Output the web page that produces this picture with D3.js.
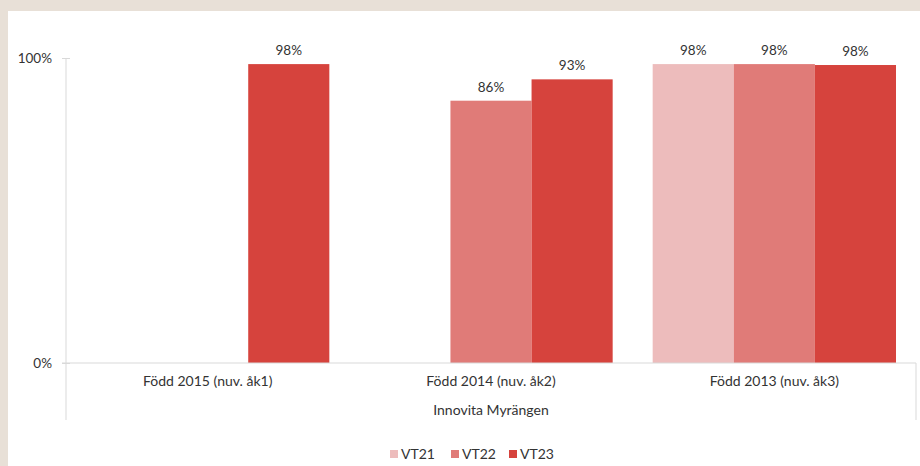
<!DOCTYPE html>
<html>
<head>
<meta charset="utf-8">
<script src="https://cdn.jsdelivr.net/npm/d3@7"></script>
<style>
  body { margin: 0; background: #e8e0d7; }
  svg text { font-family: Lato, "Open Sans", sans-serif; fill: #333; }
</style>
</head>
<body>
<svg id="chart" width="920" height="466"></svg>
<script>
"use strict";

// Data
const categories = ["Född 2015 (nuv. åk1)", "Född 2014 (nuv. åk2)", "Född 2013 (nuv. åk3)"];
const series = ["VT21", "VT22", "VT23"];
const vt21 = [null, null, 0.98];
const vt22 = [null, 0.86, 0.98];
const vt23 = [0.98, 0.93, 0.977];
const groupLabel = "Innovita Myrängen";
const yTicks = [0, 1];
const colors = ["#edbcbc", "#e07b78", "#d6433d"];

const values = [vt21, vt22, vt23];

var svg = d3.select("#chart");

// white panel
svg.append("rect")
  .attr("x", 8)
  .attr("y", 11)
  .attr("width", 912)
  .attr("height", 455)
  .attr("fill", "#fff");

var plot = { left: 66, right: 916, top: 58, bottom: 363 };

var x0 = d3.scaleBand()
  .domain(categories)
  .range([plot.left, plot.right]);

// 20px free on each side of a category, bars touch each other
var x1 = d3.scaleBand()
  .domain(series)
  .range([20, x0.bandwidth() - 20]);

var y = d3.scaleLinear()
  .domain([0, 1])
  .range([plot.bottom, plot.top]);

var axisColor = "#d9d9d9";

// y axis line, extends down through category labels
svg.append("line")
  .attr("x1", plot.left).attr("x2", plot.left)
  .attr("y1", plot.top).attr("y2", 420)
  .attr("stroke", axisColor);
svg.append("line")
  .attr("x1", plot.right).attr("x2", plot.right)
  .attr("y1", plot.bottom).attr("y2", 420)
  .attr("stroke", axisColor);

var yAxis = d3.axisLeft(y)
  .tickValues(yTicks)
  .tickFormat(d3.format(".0%"))
  .tickSize(4);

var gY = svg.append("g")
  .attr("transform", "translate(" + plot.left + ",0)")
  .call(yAxis);
gY.select(".domain").remove();
gY.selectAll(".tick line")
  .attr("stroke", axisColor)
  .attr("x2", 4)
  .attr("x1", -4);
gY.selectAll(".tick text")
  .attr("x", -14)
  .attr("font-size", 13.5);

// bars
categories.forEach(function(cat, ci) {
  series.forEach(function(s, si) {
    var v = values[si][ci];
    if (v == null) return;
    var bx = x0(cat) + x1(s);
    svg.append("rect")
      .attr("x", bx)
      .attr("y", y(v))
      .attr("width", x1.bandwidth())
      .attr("height", y(0) - y(v))
      .attr("fill", colors[si]);
    svg.append("text")
      .attr("x", bx + x1.bandwidth() / 2)
      .attr("y", y(v) - 9)
      .attr("text-anchor", "middle")
      .attr("font-size", 13.5)
      .text(d3.format(".0%")(v));
  });
});

// baseline
svg.append("line")
  .attr("x1", plot.left - 4).attr("x2", plot.right)
  .attr("y1", plot.bottom).attr("y2", plot.bottom)
  .attr("stroke", axisColor);

// category labels
var xAxis = d3.axisBottom(x0).tickSize(0).tickPadding(0);
var gX = svg.append("g")
  .attr("transform", "translate(0," + plot.bottom + ")")
  .call(xAxis);
gX.select(".domain").remove();
gX.selectAll(".tick text")
  .attr("y", 23)
  .attr("dy", 0)
  .attr("font-size", 14);

svg.append("text")
  .attr("x", (plot.left + plot.right) / 2)
  .attr("y", 415)
  .attr("text-anchor", "middle")
  .attr("font-size", 14)
  .text(groupLabel);

// legend
var legendX = [390, 451, 509];
var legend = svg.append("g");
series.forEach(function(s, i) {
  legend.append("rect")
    .attr("x", legendX[i])
    .attr("y", 450)
    .attr("width", 8)
    .attr("height", 8)
    .attr("fill", colors[i]);
  legend.append("text")
    .attr("x", legendX[i] + 11)
    .attr("y", 459)
    .attr("font-size", 14)
    .text(s);
});
</script>
</body>
</html>
